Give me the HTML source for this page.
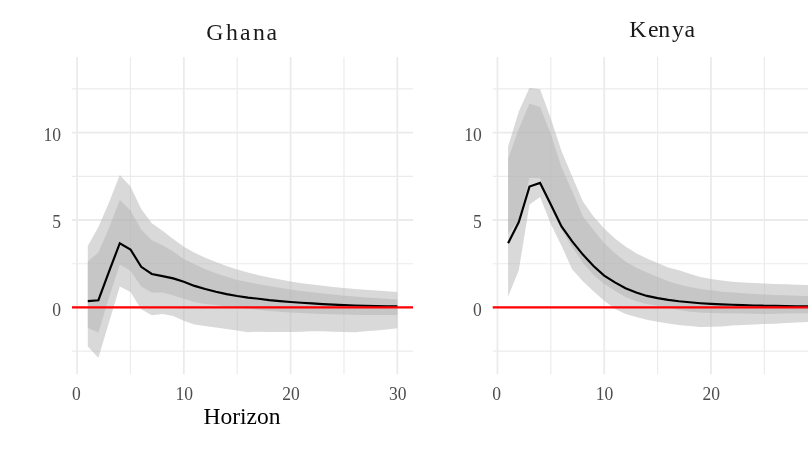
<!DOCTYPE html>
<html><head><meta charset="utf-8"><title>IRF</title>
<style>
html,body{margin:0;padding:0;background:#fff;}
body{width:808px;height:455px;overflow:hidden;}
svg{display:block;font-family:"Liberation Serif",serif;will-change:transform;transform:translateZ(0);}
.mj{stroke:#EBEBEB;stroke-width:1.8;}
.mn{stroke:#EBEBEB;stroke-width:1.15;}
.rb{fill:#B3B3B3;fill-opacity:0.5;stroke:none;}
.ln{fill:none;stroke:#000;stroke-width:2.15;stroke-linejoin:miter;stroke-miterlimit:10;stroke-linecap:butt;}
.rd{stroke:#FF0000;stroke-width:2.1;}
.tk{font-size:18.9px;fill:#4D4D4D;}
.st{font-size:23.8px;fill:#1A1A1A;}
.ax{font-size:23.5px;fill:#000;}
</style></head><body>
<svg width="808" height="455" viewBox="0 0 808 455">
<rect width="808" height="455" fill="#fff"/>
<line x1="72.00" x2="413.00" y1="88.90" y2="88.90" class="mn"/>
<line x1="72.00" x2="413.00" y1="176.30" y2="176.30" class="mn"/>
<line x1="72.00" x2="413.00" y1="263.70" y2="263.70" class="mn"/>
<line x1="72.00" x2="413.00" y1="351.10" y2="351.10" class="mn"/>
<line x1="130.47" x2="130.47" y1="57.00" y2="374.30" class="mn"/>
<line x1="237.22" x2="237.22" y1="57.00" y2="374.30" class="mn"/>
<line x1="343.98" x2="343.98" y1="57.00" y2="374.30" class="mn"/>
<line x1="72.00" x2="413.00" y1="132.60" y2="132.60" class="mj"/>
<line x1="72.00" x2="413.00" y1="220.00" y2="220.00" class="mj"/>
<line x1="72.00" x2="413.00" y1="307.40" y2="307.40" class="mj"/>
<line x1="77.10" x2="77.10" y1="57.00" y2="374.30" class="mj"/>
<line x1="183.85" x2="183.85" y1="57.00" y2="374.30" class="mj"/>
<line x1="290.60" x2="290.60" y1="57.00" y2="374.30" class="mj"/>
<line x1="397.35" x2="397.35" y1="57.00" y2="374.30" class="mj"/>
<polygon class="rb" points="87.8,245.9 98.4,227.0 109.1,202.2 119.8,175.1 130.5,186.4 141.2,209.0 151.8,223.3 162.5,230.8 173.2,239.1 183.8,246.7 194.5,252.7 205.2,257.8 215.9,262.1 226.6,266.1 237.2,269.6 247.9,272.4 258.6,275.2 269.2,277.5 279.9,279.6 290.6,281.5 301.3,283.3 312.0,284.5 322.6,285.7 333.3,286.9 344.0,288.0 354.6,288.9 365.3,289.7 376.0,290.4 386.7,291.3 397.4,292.0 397.4,328.2 386.7,329.4 376.0,330.5 365.3,331.3 354.6,332.2 344.0,332.0 333.3,331.7 322.6,331.3 312.0,331.3 301.3,331.7 290.6,331.9 279.9,331.9 269.2,331.9 258.6,331.7 247.9,332.2 237.2,330.6 226.6,328.9 215.9,327.5 205.2,326.1 194.5,324.4 183.8,320.7 173.2,316.1 162.5,314.0 151.8,315.3 141.2,309.3 130.5,292.0 119.8,286.4 109.1,321.9 98.4,357.7 87.8,346.4"/>
<polygon class="rb" points="87.8,261.4 98.4,252.5 109.1,227.7 119.8,200.1 130.5,210.4 141.2,229.6 151.8,240.3 162.5,245.3 173.2,251.6 183.8,259.0 194.5,264.2 205.2,269.3 215.9,273.3 226.6,276.8 237.2,280.0 247.9,282.1 258.6,284.3 269.2,285.9 279.9,287.8 290.6,289.4 301.3,291.0 312.0,292.2 322.6,293.4 333.3,294.6 344.0,295.7 354.6,296.6 365.3,297.4 376.0,298.1 386.7,298.8 397.4,299.5 397.4,315.1 386.7,314.9 376.0,314.9 365.3,314.9 354.6,314.7 344.0,314.6 333.3,314.2 322.6,313.9 312.0,313.5 301.3,313.0 290.6,312.5 279.9,311.8 269.2,310.9 258.6,309.8 247.9,308.8 237.2,307.4 226.6,306.4 215.9,305.1 205.2,303.9 194.5,302.0 183.8,298.8 173.2,295.2 162.5,292.5 151.8,292.5 141.2,286.4 130.5,270.7 119.8,264.6 109.1,296.9 98.4,332.4 87.8,327.7"/>
<polyline class="ln" points="87.8,301.1 98.4,300.2 109.1,271.4 119.8,243.2 130.5,249.5 141.2,266.8 151.8,274.0 162.5,276.1 173.2,278.4 183.8,281.7 194.5,285.9 205.2,289.0 215.9,291.7 226.6,294.1 237.2,296.0 247.9,297.6 258.6,298.8 269.2,300.1 279.9,301.1 290.6,302.0 301.3,302.7 312.0,303.4 322.6,304.1 333.3,304.6 344.0,305.1 354.6,305.5 365.3,305.7 376.0,306.0 386.7,306.2 397.4,306.4"/>
<line x1="72.00" x2="413.00" y1="307.40" y2="307.40" class="rd"/>
<text class="tk" text-anchor="end" transform="translate(61.10,140.80) scale(0.93,1)">10</text>
<text class="tk" text-anchor="end" transform="translate(61.10,228.20) scale(0.93,1)">5</text>
<text class="tk" text-anchor="end" transform="translate(61.10,315.60) scale(0.93,1)">0</text>
<text class="tk" text-anchor="middle" transform="translate(76.40,399.8) scale(0.93,1)">0</text>
<text class="tk" text-anchor="middle" transform="translate(184.20,399.8) scale(0.93,1)">10</text>
<text class="tk" text-anchor="middle" transform="translate(290.95,399.8) scale(0.93,1)">20</text>
<text class="tk" text-anchor="middle" transform="translate(397.70,399.8) scale(0.93,1)">30</text>
<line x1="492.75" x2="833.75" y1="88.90" y2="88.90" class="mn"/>
<line x1="492.75" x2="833.75" y1="176.30" y2="176.30" class="mn"/>
<line x1="492.75" x2="833.75" y1="263.70" y2="263.70" class="mn"/>
<line x1="492.75" x2="833.75" y1="351.10" y2="351.10" class="mn"/>
<line x1="550.83" x2="550.83" y1="57.00" y2="374.30" class="mn"/>
<line x1="657.58" x2="657.58" y1="57.00" y2="374.30" class="mn"/>
<line x1="764.33" x2="764.33" y1="57.00" y2="374.30" class="mn"/>
<line x1="492.75" x2="833.75" y1="132.60" y2="132.60" class="mj"/>
<line x1="492.75" x2="833.75" y1="220.00" y2="220.00" class="mj"/>
<line x1="492.75" x2="833.75" y1="307.40" y2="307.40" class="mj"/>
<line x1="497.45" x2="497.45" y1="57.00" y2="374.30" class="mj"/>
<line x1="604.20" x2="604.20" y1="57.00" y2="374.30" class="mj"/>
<line x1="710.95" x2="710.95" y1="57.00" y2="374.30" class="mj"/>
<line x1="817.70" x2="817.70" y1="57.00" y2="374.30" class="mj"/>
<polygon class="rb" points="508.1,146.6 518.8,111.6 529.5,87.7 540.1,89.2 550.8,118.6 561.5,151.0 572.2,176.5 582.9,201.5 593.5,216.5 604.2,228.4 614.9,238.4 625.5,246.4 636.2,253.2 646.9,258.5 657.6,263.0 668.2,267.5 678.9,270.3 689.6,273.8 700.3,277.0 711.0,279.1 721.6,280.5 732.3,281.7 743.0,282.6 753.7,283.1 764.3,283.5 775.0,284.0 785.7,284.3 796.4,284.7 807.0,285.0 817.7,285.4 817.7,321.6 807.0,322.1 796.4,322.6 785.7,323.1 775.0,323.7 764.3,324.0 753.7,324.5 743.0,325.1 732.3,325.6 721.6,326.5 711.0,326.8 700.3,327.0 689.6,326.1 678.9,324.9 668.2,323.5 657.6,321.7 646.9,319.8 636.2,317.0 625.5,313.9 614.9,308.8 604.2,300.8 593.5,291.3 582.9,281.2 572.2,269.5 561.5,245.7 550.8,224.0 540.1,197.1 529.5,204.6 518.8,270.2 508.1,296.4"/>
<polygon class="rb" points="508.1,158.8 518.8,129.1 529.5,103.4 540.1,106.9 550.8,134.0 561.5,167.2 572.2,191.2 582.9,216.5 593.5,230.1 604.2,243.2 614.9,253.2 625.5,261.4 636.2,267.7 646.9,272.6 657.6,277.0 668.2,281.2 678.9,284.5 689.6,286.9 700.3,288.9 711.0,290.3 721.6,291.7 732.3,292.5 743.0,293.2 753.7,293.9 764.3,294.5 775.0,295.0 785.7,295.3 796.4,295.7 807.0,296.0 817.7,296.4 817.7,313.0 807.0,313.2 796.4,313.3 785.7,313.5 775.0,313.7 764.3,313.9 753.7,313.7 743.0,313.5 732.3,313.3 721.6,313.2 711.0,313.0 700.3,312.6 689.6,311.8 678.9,309.8 668.2,307.4 657.6,305.7 646.9,303.9 636.2,301.3 625.5,296.9 614.9,290.8 604.2,283.8 593.5,275.1 582.9,262.7 572.2,246.9 561.5,229.6 550.8,207.8 540.1,178.0 529.5,177.7 518.8,220.0 508.1,234.0"/>
<polyline class="ln" points="508.1,243.2 518.8,222.1 529.5,186.6 540.1,182.9 550.8,204.6 561.5,226.5 572.2,241.3 582.9,254.6 593.5,266.1 604.2,275.6 614.9,282.4 625.5,288.2 636.2,292.5 646.9,295.9 657.6,298.1 668.2,299.9 678.9,301.3 689.6,302.3 700.3,303.2 711.0,303.9 721.6,304.4 732.3,304.8 743.0,305.1 753.7,305.5 764.3,305.7 775.0,305.8 785.7,306.0 796.4,306.2 807.0,306.2 817.7,306.4"/>
<line x1="492.75" x2="833.75" y1="307.40" y2="307.40" class="rd"/>
<text class="tk" text-anchor="end" transform="translate(481.85,140.80) scale(0.93,1)">10</text>
<text class="tk" text-anchor="end" transform="translate(481.85,228.20) scale(0.93,1)">5</text>
<text class="tk" text-anchor="end" transform="translate(481.85,315.60) scale(0.93,1)">0</text>
<text class="tk" text-anchor="middle" transform="translate(496.75,399.8) scale(0.93,1)">0</text>
<text class="tk" text-anchor="middle" transform="translate(604.55,399.8) scale(0.93,1)">10</text>
<text class="tk" text-anchor="middle" transform="translate(711.30,399.8) scale(0.93,1)">20</text>
<text class="tk" text-anchor="middle" transform="translate(818.05,399.8) scale(0.93,1)">30</text>
<text class="st" x="206.15 226.0 240.1 252.9 266.4" y="39.7">Ghana</text>
<text class="st" x="629.25 647.9 658.3 672.0 684.4" y="37.2">Kenya</text>
<text class="ax" x="203.5" y="424.4">Horizon</text>
</svg></body></html>
